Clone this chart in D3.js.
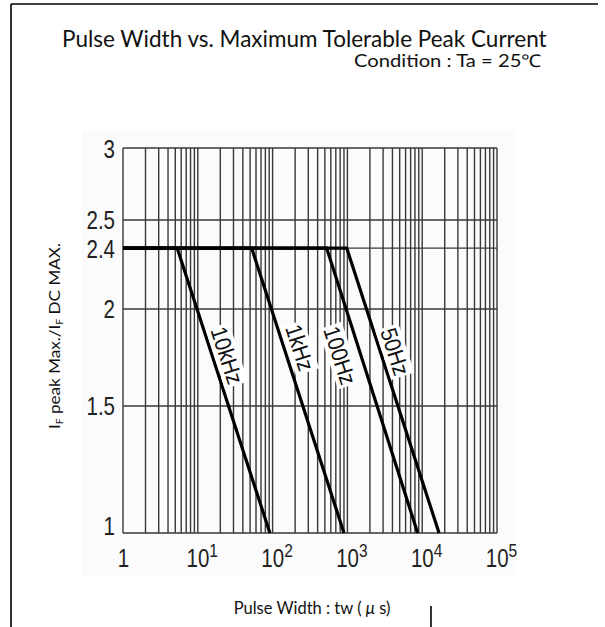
<!DOCTYPE html>
<html>
<head>
<meta charset="utf-8">
<script src="https://cdn.jsdelivr.net/npm/d3@7"></script>
<style>
  html, body { margin: 0; padding: 0; background: #fff; }
  svg { display: block; }
</style>
</head>
<body>
<svg id="chart" width="605" height="627"></svg>
<script>
// ---------------- DATA ----------------
const seriesNames = ["10kHz", "1kHz", "100Hz", "50Hz"];
// pulse width (µs) at plateau start, knee and end of each curve
const tw10kHz = [1, 5.3, 92];
const tw1kHz  = [1, 52.5, 900];
const tw100Hz = [1, 528, 8700];
const tw50Hz  = [1, 980, 16800];
// ratio IF peak max / IF DC max at those points (same for every curve)
const ratioPoints = [2.4, 2.4, 1];
// label anchor positions (data coords)
const labelTw    = [24.6, 232, 796, 4330];
const labelRatio = [1.76, 1.80, 1.76, 1.78];
// axis ticks
const xTickValues = [1, 10, 100, 1000, 10000, 100000];
const xTickExponents = ["", "1", "2", "3", "4", "5"];
const yTickValues = [1, 1.5, 2, 2.4, 2.5, 3];
const yTickLabels = ["1", "1.5", "2", "2.4", "2.5", "3"];

// ---------------- LAYOUT ----------------
const svg = d3.select("#chart");
const plot = { left: 123, right: 497, top: 148, bottom: 533 };
// relative vertical placement of the y ticks in the original (non-uniform) scale
const yFrac = [0, 0.330, 0.582, 0.740, 0.813, 1];

const x = d3.scaleLog().domain([1, 100000]).range([plot.left, plot.right]);
const y = d3.scaleLinear()
  .domain(yTickValues)
  .range(yFrac.map(f => plot.bottom - f * (plot.bottom - plot.top)));

const humanist = "Lato, 'Open Sans', sans-serif";
const narrow = "'Liberation Sans', Arial, sans-serif";

// outer frame
svg.append("rect").attr("x", 0).attr("y", 0).attr("width", 605).attr("height", 627).attr("fill", "#fff");
const frame = svg.append("g").attr("stroke", "#000").attr("stroke-width", 1.6).attr("fill", "none");
frame.append("line").attr("x1", 11).attr("y1", 4).attr("x2", 11).attr("y2", 627);
frame.append("line").attr("x1", 11).attr("y1", 4).attr("x2", 598).attr("y2", 4);
frame.append("line").attr("x1", 431).attr("y1", 606).attr("x2", 431).attr("y2", 627);

// faint scan background
svg.append("rect").attr("x", 82).attr("y", 130).attr("width", 433).attr("height", 445).attr("fill", "#fbfbfb");

// title
svg.append("text").attr("x", 62).attr("y", 47)
  .attr("font-family", humanist).attr("font-size", 22.5)
  .attr("fill", "#111")
  .text("Pulse Width vs. Maximum Tolerable Peak Current");
svg.append("text").attr("x", 354).attr("y", 67)
  .attr("font-family", humanist).attr("font-size", 17.5)
  .attr("textLength", 187).attr("lengthAdjust", "spacingAndGlyphs")
  .attr("fill", "#111")
  .text("Condition : Ta = 25℃");

// grid
const grid = svg.append("g").attr("stroke", "#383838").attr("stroke-width", 1.4);
const xGrid = [];
for (let k = 0; k < 5; k++) for (let i = 1; i <= 9; i++) xGrid.push(i * Math.pow(10, k));
xGrid.push(100000);
grid.selectAll("line.v").data(xGrid).join("line").attr("class", "v")
  .attr("x1", d => x(d)).attr("x2", d => x(d))
  .attr("y1", plot.top).attr("y2", plot.bottom);
grid.selectAll("line.h").data(yTickValues).join("line").attr("class", "h")
  .attr("x1", plot.left).attr("x2", plot.right)
  .attr("y1", d => y(d)).attr("y2", d => y(d));

// curves
const twSets = [tw10kHz, tw1kHz, tw100Hz, tw50Hz];
const line = d3.line().x(d => x(d[0])).y(d => y(d[1]));
svg.append("g").selectAll("path").data(twSets).join("path")
  .attr("d", tws => line(tws.map((t, i) => [t, ratioPoints[i]])))
  .attr("fill", "none").attr("stroke", "#000").attr("stroke-width", 3.2)
  .attr("stroke-linejoin", "miter");

// curve labels
const lbl = svg.append("g").selectAll("g").data(seriesNames).join("g")
  .attr("transform", (d, i) => `translate(${x(labelTw[i])},${y(labelRatio[i])}) rotate(72)`);
lbl.append("rect").attr("fill", "#fff");
lbl.append("text")
  .attr("text-anchor", "middle").attr("dy", "0.35em")
  .attr("font-family", narrow).attr("font-size", 23)
  .attr("transform", "scale(0.9,1)")
  .attr("fill", "#111")
  .text(d => d);
lbl.each(function () {
  const g = d3.select(this);
  const b = g.select("text").node().getBBox();
  g.select("rect").attr("x", (b.x - 2) * 0.9).attr("y", b.y + 1)
    .attr("width", (b.width + 4) * 0.9).attr("height", b.height - 2);
});

// axes
const yAxis = svg.append("g").attr("transform", `translate(${plot.left},0)`)
  .call(d3.axisLeft(y).tickValues(yTickValues).tickSize(0).tickPadding(8)
    .tickFormat((d, i) => yTickLabels[i]));
yAxis.select(".domain").remove();
yAxis.selectAll("text").attr("font-family", narrow).attr("font-size", 25)
  .attr("fill", "#222")
  .attr("transform", "scale(0.82,1)")
  .attr("x", -8 / 0.82)
  .attr("dy", d => d === 1 ? "0.05em" : "0.36em");

const xAxis = svg.append("g").attr("transform", `translate(0,${plot.bottom})`)
  .call(d3.axisBottom(x).tickValues(xTickValues).tickSize(0).tickPadding(0).tickFormat(() => ""));
xAxis.select(".domain").remove();
xAxis.selectAll(".tick text").each(function (d, i) {
  const t = d3.select(this);
  t.attr("font-family", narrow).attr("font-size", 25).attr("fill", "#222")
    .attr("y", 34).attr("dy", 0)
    .attr("transform", "scale(0.82,1)")
    .attr("x", i === 0 ? 0 : 4 / 0.82);
  if (i === 0) {
    t.text("1");
  } else {
    t.append("tspan").text("10");
    t.append("tspan").attr("font-size", 19).attr("dy", -10).text(xTickExponents[i]);
  }
});

// y label
const yl = svg.append("text")
  .attr("transform", "translate(60,336) rotate(-90)")
  .attr("text-anchor", "middle")
  .attr("font-family", humanist).attr("font-size", 15).attr("fill", "#111")
  .attr("textLength", 186).attr("lengthAdjust", "spacingAndGlyphs");
yl.append("tspan").text("I");
yl.append("tspan").attr("font-size", 9).attr("dy", 3).text("F");
yl.append("tspan").attr("dy", -3).text(" peak Max./I");
yl.append("tspan").attr("font-size", 9).attr("dy", 3).text("F");
yl.append("tspan").attr("dy", -3).text(" DC MAX.");

// x label
const xl = svg.append("text").attr("x", 312).attr("y", 614)
  .attr("text-anchor", "middle")
  .attr("font-family", humanist).attr("font-size", 16.5).attr("fill", "#111");
xl.append("tspan").text("Pulse Width : tw ( ");
xl.append("tspan").attr("font-style", "italic").text("μ");
xl.append("tspan").text(" s)");
</script>
</body>
</html>
